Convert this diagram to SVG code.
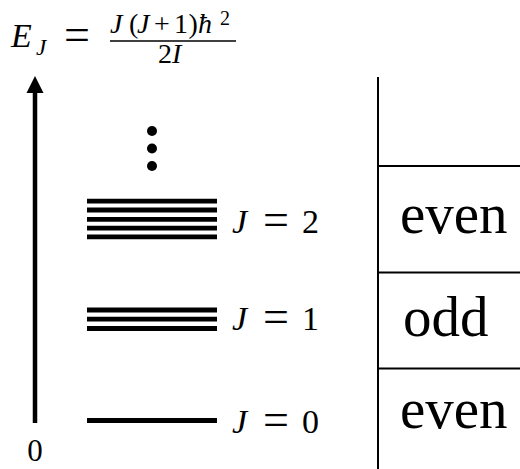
<svg xmlns="http://www.w3.org/2000/svg" width="520" height="469" viewBox="0 0 520 469">
<style>
text{font-family:"Liberation Serif","Times New Roman",serif;fill:#000}
.i{font-style:italic}
.lv{stroke:#000;stroke-width:4.8}
.tb{stroke:#000;stroke-width:2;fill:none}
.par{font-size:57px}
.jl{font-size:34px}
.eq{font-size:46px}
</style>
<rect width="520" height="469" fill="#fff"/>
<g id="equation">
<text x="11" y="47" class="i" font-size="34">E</text>
<text x="36" y="55" class="i" font-size="23">J</text>
<text x="64" y="50" font-size="46">=</text>
<text y="33" font-size="28"><tspan x="110" class="i">J</tspan><tspan x="129">(</tspan><tspan x="137" class="i">J</tspan><tspan x="154">+</tspan><tspan x="174">1</tspan><tspan x="188.5">)</tspan><tspan x="198" class="i">ħ</tspan><tspan x="220" dy="-8" font-size="20">2</tspan></text>
<line x1="110" y1="41" x2="236" y2="41" stroke="#000" stroke-width="1.6"/>
<text y="63" font-size="28"><tspan x="158">2</tspan><tspan x="172" class="i">I</tspan></text>
</g>
<g id="axis">
<line x1="35" y1="423" x2="35" y2="90" stroke="#000" stroke-width="4.5"/>
<polygon points="35,76 26.5,93 43.5,93" fill="#000"/>
<text x="35" y="461" font-size="31" text-anchor="middle">0</text>
</g>
<g id="dots">
<circle cx="152" cy="131" r="5"/>
<circle cx="152" cy="148.5" r="5"/>
<circle cx="152" cy="166" r="5"/>
</g>
<g id="level-J2">
<line class="lv" x1="87" y1="201.2" x2="217" y2="201.2"/>
<line class="lv" x1="87" y1="210" x2="217" y2="210"/>
<line class="lv" x1="87" y1="219.3" x2="217" y2="219.3"/>
<line class="lv" x1="87" y1="228.2" x2="217" y2="228.2"/>
<line class="lv" x1="87" y1="236.8" x2="217" y2="236.8"/>
<text x="232" y="233" class="jl i">J</text>
<text x="263" y="235" class="eq">=</text>
<text x="302" y="233" class="jl">2</text>
</g>
<g id="level-J1">
<line class="lv" x1="87" y1="310" x2="217" y2="310"/>
<line class="lv" x1="87" y1="319.2" x2="217" y2="319.2"/>
<line class="lv" x1="87" y1="328.5" x2="217" y2="328.5"/>
<text x="232" y="330" class="jl i">J</text>
<text x="263" y="332" class="eq">=</text>
<text x="302" y="330" class="jl">1</text>
</g>
<g id="level-J0">
<line class="lv" x1="87" y1="420.5" x2="217" y2="420.5"/>
<text x="232" y="433" class="jl i">J</text>
<text x="263" y="435" class="eq">=</text>
<text x="302" y="433" class="jl">0</text>
</g>
<g id="parity-table">
<line class="tb" x1="378" y1="77" x2="378" y2="469"/>
<line class="tb" x1="378" y1="166" x2="520" y2="166"/>
<line class="tb" x1="378" y1="272.5" x2="520" y2="272.5"/>
<line class="tb" x1="378" y1="368.5" x2="520" y2="368.5"/>
<text x="400" y="233" class="par">even</text>
<text x="403" y="336" class="par">odd</text>
<text x="400" y="428" class="par">even</text>
</g>
</svg>
